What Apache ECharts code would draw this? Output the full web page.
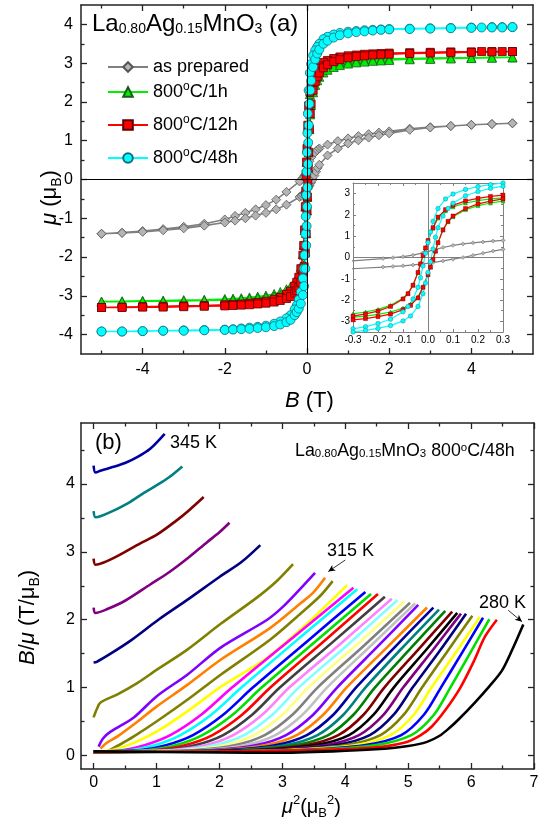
<!DOCTYPE html>
<html><head><meta charset="utf-8">
<script src="https://cdn.jsdelivr.net/npm/echarts@6/dist/echarts.min.js"></script>
<style>html,body{margin:0;padding:0;background:#fff}#c{width:550px;height:829px}</style>
</head><body><div id="c"></div>
<script>
// ---------- tick values ----------
const xTicksA = [-4, -2, 0, 2, 4];
const xMinorA = [-5, -3, -1, 1, 3, 5];
const yTicksA = [-4, -3, -2, -1, 0, 1, 2, 3, 4];
const yMinorA = [-3.5, -2.5, -1.5, -0.5, 0.5, 1.5, 2.5, 3.5];
const xTicksI = [-0.3, -0.2, -0.1, 0, 0.1, 0.2, 0.3];
const xMinorI = [-0.25, -0.15, -0.05, 0.05, 0.15, 0.25];
const yTicksI = [-3, -2, -1, 0, 1, 2, 3];
const yMinorI = [-2.5, -1.5, -0.5, 0.5, 1.5, 2.5];
const xTicksB = [0, 1, 2, 3, 4, 5, 6, 7];
const xMinorB = [0.5, 1.5, 2.5, 3.5, 4.5, 5.5, 6.5];
const yTicksB = [0, 1, 2, 3, 4];
const yMinorB = [0.5, 1.5, 2.5, 3.5, 4.5];

// ---------- Panel (a): hysteresis loops [B (T), mu (muB)] ----------
const grayDown = [[5,1.45],[4.5,1.43],[4,1.41],[3.5,1.38],[3,1.35],[2.5,1.31],[2,1.24],[1.75,1.21],[1.5,1.17],[1.25,1.12],[1,1.06],[0.75,0.99],[0.5,0.9],[0.3,0.8],[0.26,0.77],[0.22,0.73],[0.18,0.69],[0.14,0.64],[0.1,0.57],[0.06,0.47],[0.02,0.35],[-0.02,0.22],[-0.06,0.11],[-0.1,0.04],[-0.14,-0.01],[-0.18,-0.05],[-0.5,-0.32],[-0.75,-0.52],[-1,-0.66],[-1.25,-0.77],[-1.5,-0.86],[-1.75,-0.94],[-2,-1.03],[-2.5,-1.14],[-3,-1.22],[-3.5,-1.28],[-4,-1.33],[-4.5,-1.37],[-5,-1.4]];
const grayUp = [[-5,-1.4],[-4.5,-1.38],[-4,-1.35],[-3.5,-1.31],[-3,-1.26],[-2.5,-1.19],[-2,-1.11],[-1.75,-1.06],[-1.5,-1.0],[-1.25,-0.93],[-1,-0.86],[-0.75,-0.77],[-0.5,-0.65],[-0.18,-0.45],[-0.14,-0.42],[-0.1,-0.39],[-0.06,-0.35],[-0.02,-0.3],[0.02,-0.24],[0.06,-0.16],[0.1,-0.08],[0.14,0.0],[0.18,0.1],[0.22,0.2],[0.26,0.3],[0.3,0.38],[0.5,0.62],[0.75,0.8],[1,0.93],[1.25,1.01],[1.5,1.08],[1.75,1.14],[2,1.19],[2.5,1.28],[3,1.34],[3.5,1.38],[4,1.41],[4.5,1.43],[5,1.45]];

const greenDown = [[5,3.15],[4.5,3.15],[4,3.14],[3.5,3.14],[3,3.13],[2.5,3.12],[2,3.11],[1.8,3.1],[1.6,3.09],[1.4,3.08],[1.2,3.06],[1,3.04],[0.8,3.01],[0.65,2.98],[0.5,2.93],[0.4,2.88],[0.3,2.8],[0.25,2.75],[0.2,2.67],[0.15,2.56],[0.1,2.38],[0.07,2.2],[0.04,1.85],[0.02,1.38],[0,0.8],[-0.01,0.45],[-0.02,0.1],[-0.03,-0.3],[-0.04,-0.7],[-0.06,-1.3],[-0.08,-1.68],[-0.1,-1.92],[-0.15,-2.25],[-0.2,-2.44],[-0.25,-2.56],[-0.3,-2.65],[-0.4,-2.76],[-0.5,-2.83],[-0.65,-2.9],[-0.8,-2.95],[-1,-2.99],[-1.2,-3.02],[-1.4,-3.04],[-1.6,-3.06],[-1.8,-3.07],[-2,-3.08],[-2.5,-3.1],[-3,-3.11],[-3.5,-3.12],[-4,-3.13],[-4.5,-3.14],[-5,-3.15]];
const greenUp = [[-5,-3.15],[-4.5,-3.15],[-4,-3.14],[-3.5,-3.14],[-3,-3.13],[-2.5,-3.12],[-2,-3.11],[-1.8,-3.1],[-1.6,-3.09],[-1.4,-3.08],[-1.2,-3.06],[-1,-3.04],[-0.8,-3.01],[-0.65,-2.98],[-0.5,-2.93],[-0.4,-2.88],[-0.3,-2.8],[-0.25,-2.75],[-0.2,-2.67],[-0.15,-2.56],[-0.1,-2.38],[-0.07,-2.2],[-0.04,-1.85],[-0.02,-1.38],[0,-0.8],[0.01,-0.45],[0.02,-0.1],[0.03,0.3],[0.04,0.7],[0.06,1.3],[0.08,1.68],[0.1,1.92],[0.15,2.25],[0.2,2.44],[0.25,2.56],[0.3,2.65],[0.4,2.76],[0.5,2.83],[0.65,2.9],[0.8,2.95],[1,2.99],[1.2,3.02],[1.4,3.04],[1.6,3.06],[1.8,3.07],[2,3.08],[2.5,3.1],[3,3.11],[3.5,3.12],[4,3.13],[4.5,3.14],[5,3.15]];

const redDown = [[5,3.3],[4.75,3.3],[4.5,3.3],[4.25,3.3],[4,3.29],[3.5,3.29],[3,3.28],[2.5,3.27],[2,3.26],[1.8,3.25],[1.6,3.24],[1.4,3.23],[1.2,3.21],[1,3.19],[0.8,3.16],[0.65,3.12],[0.5,3.07],[0.4,3.02],[0.3,2.93],[0.25,2.87],[0.2,2.78],[0.15,2.66],[0.1,2.45],[0.07,2.25],[0.04,1.9],[0.02,1.4],[0,0.8],[-0.01,0.45],[-0.02,0.1],[-0.03,-0.3],[-0.04,-0.7],[-0.06,-1.3],[-0.08,-1.7],[-0.1,-1.95],[-0.15,-2.3],[-0.2,-2.52],[-0.25,-2.65],[-0.3,-2.75],[-0.4,-2.88],[-0.5,-2.96],[-0.65,-3.04],[-0.8,-3.09],[-1,-3.14],[-1.2,-3.17],[-1.4,-3.19],[-1.6,-3.21],[-1.8,-3.22],[-2,-3.23],[-2.5,-3.25],[-3,-3.26],[-3.5,-3.27],[-4,-3.28],[-4.5,-3.29],[-5,-3.3]];
const redUp = [[-5,-3.3],[-4.5,-3.3],[-4,-3.29],[-3.5,-3.29],[-3,-3.28],[-2.5,-3.27],[-2,-3.26],[-1.8,-3.25],[-1.6,-3.24],[-1.4,-3.23],[-1.2,-3.21],[-1,-3.19],[-0.8,-3.16],[-0.65,-3.12],[-0.5,-3.07],[-0.4,-3.02],[-0.3,-2.93],[-0.25,-2.87],[-0.2,-2.78],[-0.15,-2.66],[-0.1,-2.45],[-0.07,-2.25],[-0.04,-1.9],[-0.02,-1.4],[0,-0.8],[0.01,-0.45],[0.02,-0.1],[0.03,0.3],[0.04,0.7],[0.06,1.3],[0.08,1.7],[0.1,1.95],[0.15,2.3],[0.2,2.52],[0.25,2.65],[0.3,2.75],[0.4,2.88],[0.5,2.96],[0.65,3.04],[0.8,3.09],[1,3.14],[1.2,3.17],[1.4,3.19],[1.6,3.21],[1.8,3.22],[2,3.23],[2.5,3.25],[3,3.26],[3.5,3.27],[4,3.28],[4.5,3.29],[5,3.3]];

const cyanDown = [[5,3.93],[4.75,3.93],[4.5,3.93],[4.25,3.92],[4,3.92],[3.5,3.91],[3,3.9],[2.5,3.89],[2,3.88],[1.8,3.87],[1.6,3.86],[1.4,3.85],[1.2,3.83],[1,3.81],[0.8,3.78],[0.65,3.74],[0.5,3.68],[0.4,3.62],[0.3,3.5],[0.25,3.42],[0.2,3.33],[0.15,3.2],[0.1,2.98],[0.07,2.75],[0.04,2.3],[0.02,1.7],[0.01,1.2],[0,0.7],[-0.01,0.2],[-0.02,-0.4],[-0.03,-0.95],[-0.04,-1.4],[-0.06,-1.95],[-0.08,-2.3],[-0.1,-2.55],[-0.15,-2.9],[-0.2,-3.1],[-0.25,-3.25],[-0.3,-3.35],[-0.4,-3.5],[-0.5,-3.58],[-0.65,-3.66],[-0.8,-3.72],[-1,-3.77],[-1.2,-3.8],[-1.4,-3.82],[-1.6,-3.84],[-1.8,-3.86],[-2,-3.87],[-2.5,-3.88],[-3,-3.89],[-3.5,-3.9],[-4,-3.91],[-4.5,-3.92],[-5,-3.92]];
const cyanUp = [[-5,-3.92],[-4.5,-3.92],[-4,-3.91],[-3.5,-3.9],[-3,-3.9],[-2.5,-3.89],[-2,-3.88],[-1.8,-3.87],[-1.6,-3.86],[-1.4,-3.85],[-1.2,-3.83],[-1,-3.81],[-0.8,-3.78],[-0.65,-3.74],[-0.5,-3.68],[-0.4,-3.62],[-0.3,-3.5],[-0.25,-3.42],[-0.2,-3.33],[-0.15,-3.2],[-0.1,-2.98],[-0.07,-2.75],[-0.04,-2.3],[-0.02,-1.7],[-0.01,-1.2],[0,-0.7],[0.01,-0.2],[0.02,0.4],[0.03,0.95],[0.04,1.4],[0.06,1.95],[0.08,2.3],[0.1,2.55],[0.15,2.9],[0.2,3.1],[0.25,3.25],[0.3,3.35],[0.4,3.5],[0.5,3.58],[0.65,3.66],[0.8,3.72],[1,3.77],[1.2,3.8],[1.4,3.82],[1.6,3.84],[1.8,3.86],[2,3.87],[2.5,3.88],[3,3.89],[3.5,3.9],[4,3.91],[4.5,3.92],[4.75,3.92],[5,3.93]];

// ---------- Panel (b): Arrott curves [mu^2, B/mu], t01 = 280 K ... t36 = 345 K ----------
const t01 = [[0,0.06],[1,0.05],[2,0.045],[2.9,0.04],[3.8,0.06],[4.48,0.09],[5.0,0.14],[5.3,0.2],[5.5,0.29],[5.65,0.4],[5.8,0.53],[6.06,0.78],[6.3,1.03],[6.49,1.25],[6.65,1.55],[6.83,1.93]];
const t02 = [[0,0.05],[2,0.06],[3.5,0.08],[4.48,0.12],[4.95,0.19],[5.2,0.3],[5.38,0.43],[5.6,0.68],[5.83,1.0],[6.05,1.4],[6.22,1.75],[6.41,2.0]];
const t03 = [[0,0.05],[2,0.06],[3.39,0.08],[4.46,0.15],[5.05,0.3],[5.41,0.6],[5.67,1.0],[5.98,1.5],[6.29,2.01]];
const t04 = [[0,0.05],[2,0.06],[3.27,0.08],[4.3,0.15],[4.89,0.3],[5.25,0.6],[5.52,1.0],[5.86,1.52],[6.19,2.03]];
const t05 = [[0,0.05],[2,0.06],[3.14,0.08],[4.15,0.15],[4.72,0.3],[5.09,0.6],[5.37,1.0],[5.76,1.52],[6.14,2.04]];
const t06 = [[0,0.05],[2,0.06],[3.02,0.08],[3.99,0.15],[4.56,0.3],[4.93,0.6],[5.22,1.0],[5.62,1.53],[6.02,2.06]];
const t07 = [[0,0.05],[1.8,0.06],[2.89,0.08],[3.83,0.15],[4.39,0.3],[4.77,0.6],[5.07,1.0],[5.5,1.54],[5.92,2.09]];
const t08 = [[0,0.05],[1.7,0.06],[2.76,0.08],[3.67,0.15],[4.22,0.3],[4.61,0.6],[4.92,1.0],[5.38,1.54],[5.84,2.09]];
const t09 = [[0,0.05],[1.6,0.06],[2.64,0.08],[3.51,0.15],[4.06,0.3],[4.45,0.6],[4.77,1.0],[5.28,1.55],[5.78,2.1]];
const t10 = [[0,0.05],[1.5,0.06],[2.51,0.08],[3.36,0.15],[3.89,0.3],[4.29,0.6],[4.62,1.0],[5.16,1.56],[5.7,2.12]];
const t11 = [[0,0.05],[1.4,0.06],[2.39,0.08],[3.2,0.15],[3.73,0.3],[4.13,0.6],[4.47,1.0],[5.03,1.57],[5.59,2.13]];
const t12 = [[0,0.05],[1.3,0.06],[2.26,0.08],[3.04,0.15],[3.56,0.3],[3.97,0.6],[4.32,1.0],[4.9,1.58],[5.49,2.15]];
const t13 = [[0,0.05],[1.2,0.06],[2.13,0.08],[2.88,0.15],[3.39,0.3],[3.81,0.6],[4.17,1.0],[4.78,1.59],[5.4,2.18]];
const t14 = [[0,0.05],[1.1,0.06],[2.01,0.08],[2.72,0.15],[3.23,0.3],[3.65,0.6],[4.02,1.0],[4.66,1.59],[5.3,2.18]];
const t15 = [[0,0.05],[1.0,0.06],[1.88,0.08],[2.57,0.15],[3.06,0.3],[3.49,0.6],[3.87,1.0],[4.52,1.61],[5.16,2.22]];
const t16 = [[0,0.05],[0.9,0.06],[1.75,0.08],[2.4,0.15],[2.89,0.3],[3.32,0.6],[3.71,1.0],[4.41,1.62],[5.11,2.24]];
const t17 = [[0,0.05],[0.8,0.06],[1.62,0.08],[2.24,0.15],[2.72,0.3],[3.16,0.6],[3.56,1.0],[4.3,1.62],[5.03,2.25]];
const t18 = [[0,0.05],[0.7,0.06],[1.49,0.08],[2.08,0.15],[2.55,0.3],[3.0,0.6],[3.41,1.0],[4.18,1.63],[4.94,2.27]];
const t19 = [[0,0.05],[0.6,0.06],[1.37,0.08],[1.92,0.15],[2.39,0.3],[2.84,0.6],[3.26,1.0],[4.05,1.64],[4.83,2.29]];
const t20 = [[0,0.05],[0.5,0.06],[1.24,0.08],[1.77,0.15],[2.22,0.3],[2.68,0.6],[3.11,1.0],[3.93,1.65],[4.74,2.31]];
const t21 = [[0,0.05],[0.45,0.06],[1.12,0.08],[1.61,0.15],[2.06,0.3],[2.52,0.6],[2.96,1.0],[3.8,1.67],[4.63,2.34]];
const t22 = [[0,0.05],[0.4,0.06],[0.99,0.08],[1.45,0.15],[1.89,0.3],[2.36,0.6],[2.81,1.0],[3.67,1.69],[4.52,2.38]];
const t23 = [[0,0.05],[0.35,0.06],[0.87,0.08],[1.3,0.15],[1.73,0.3],[2.21,0.6],[2.67,1.0],[3.54,1.69],[4.41,2.38]];
const t24 = [[0,0.05],[0.3,0.06],[0.76,0.08],[1.15,0.15],[1.58,0.3],[2.06,0.6],[2.53,1.0],[3.43,1.71],[4.32,2.41]];
const t25 = [[0,0.05],[0.25,0.06],[0.6,0.08],[0.97,0.15],[1.38,0.3],[1.87,0.6],[2.35,1.0],[3.27,1.73],[4.19,2.45]];
const t26 = [[0,0.05],[0.2,0.06],[0.48,0.08],[0.81,0.15],[1.22,0.3],[1.71,0.6],[2.2,1.0],[3.17,1.74],[4.13,2.47]];
const t27 = [[0,0.05],[0.3,0.08],[0.6,0.17],[1.0,0.35],[1.49,0.65],[2.02,1.01],[2.76,1.44],[3.4,1.95],[4.03,2.51]];
const t28 = [[0.22,0.06],[0.4,0.15],[0.64,0.28],[1.0,0.5],[1.49,0.82],[2.02,1.19],[2.81,1.71],[3.3,2.1],[3.6,2.35],[3.8,2.57]];
const t29 = [[0.11,0.1],[0.2,0.18],[0.38,0.28],[0.7,0.5],[1.0,0.72],[1.49,1.04],[2.02,1.41],[2.81,1.88],[3.3,2.25],[3.49,2.4],[3.68,2.62]];
const t30 = [[0.08,0.13],[0.15,0.25],[0.27,0.35],[0.64,0.56],[1.0,0.87],[1.49,1.19],[2.02,1.59],[2.76,2.0],[3.02,2.2],[3.33,2.5],[3.52,2.69]];
const t31 = [[0,0.56],[0.05,0.68],[0.11,0.78],[0.38,0.9],[0.7,1.07],[1.0,1.26],[1.49,1.56],[2.02,1.94],[2.6,2.33],[2.9,2.56],[3.17,2.82]];
const t32 = [[0,1.37],[0.05,1.38],[0.27,1.5],[0.6,1.7],[1.03,2.0],[1.5,2.3],[2.0,2.63],[2.35,2.85],[2.65,3.1]];
const t33 = [[0,2.18],[0.03,2.1],[0.2,2.15],[0.5,2.28],[0.9,2.52],[1.2,2.7],[1.5,2.91],[1.8,3.14],[2.0,3.29],[2.16,3.43]];
const t34 = [[0,2.9],[0.03,2.81],[0.15,2.84],[0.4,2.95],[0.75,3.13],[1.0,3.25],[1.3,3.45],[1.5,3.6],[1.75,3.81]];
const t35 = [[0,3.6],[0.03,3.51],[0.12,3.53],[0.3,3.6],[0.55,3.72],[0.8,3.87],[1.0,3.98],[1.2,4.1],[1.41,4.26]];
const t36 = [[0,4.27],[0.03,4.17],[0.12,4.2],[0.3,4.25],[0.5,4.31],[0.7,4.4],[0.9,4.52],[1.13,4.74]];
const curvesB = [t01,t02,t03,t04,t05,t06,t07,t08,t09,t10,t11,t12,t13,t14,t15,t16,t17,t18,t19,t20,t21,t22,t23,t24,t25,t26,t27,t28,t29,t30,t31,t32,t33,t34,t35,t36];
const curveColors = ['#000000','#FF0000','#00E000','#0000FF','#FFFF00','#808000','#000080','#800080','#000000','#800000','#008000','#008080','#0000A0','#FF8000','#8000FF','#C0C0C0','#808080','#FFFF80','#80FFFF','#FF80FF','#404040','#FF0000','#00E000','#0000FF','#00FFFF','#FF00FF','#FFFF00','#808000','#FF8000','#8000FF','#808000','#000080','#800080','#800000','#008080','#0000A0'];

// ---------- helpers ----------
const FF = '"Liberation Sans", Arial, sans-serif';
function axesFor(dim, grid, min, max, majors, minors, o) {
  const pos = dim === 'x' ? ['bottom', 'top'] : ['left', 'right'];
  const base = () => ({type: 'value', gridIndex: grid, min: min, max: max, splitLine: {show: false}, z: o.z || 0});
  const line = (show) => ({show: show, onZero: false, lineStyle: {color: o.color, width: o.width}});
  const tick = (vals, len) => ({show: true, inside: true, length: len, customValues: vals, lineStyle: {color: o.color, width: o.tw}});
  const lab = (show, vals) => ({show: show, customValues: vals, formatter: o.fmt, fontSize: o.fs, color: '#000', fontFamily: FF, margin: o.margin});
  return [
    Object.assign(base(), {position: pos[0], axisLine: line(true), axisTick: tick(majors, o.maj), axisLabel: lab(true, majors)}),
    Object.assign(base(), {position: pos[1], axisLine: line(true), axisTick: tick(majors, o.maj), axisLabel: lab(false, majors)}),
    Object.assign(base(), {position: pos[0], axisLine: line(false), axisTick: tick(minors, o.min), axisLabel: lab(false, minors)}),
    Object.assign(base(), {position: pos[1], axisLine: line(false), axisTick: tick(minors, o.min), axisLabel: lab(false, minors)})
  ];
}
const intFmt = v => String(Math.round(v));
const oA = {color: '#222', width: 1.5, tw: 1.3, maj: 6, min: 3.5, fs: 16, margin: 8, fmt: intFmt};
const oI = {color: '#808080', width: 1, tw: 1, maj: 3, min: 2, fs: 10, margin: 3, fmt: v => v.toFixed(1), z: 7};
const oIy = Object.assign({}, oI, {fmt: intFmt});
const oB = {color: '#222', width: 1.5, tw: 1.3, maj: 6, min: 3.5, fs: 16, margin: 6, fmt: intFmt};

const xAxes = [].concat(
  axesFor('x', 0, -5.5, 5.5, xTicksA, xMinorA, oA),
  axesFor('x', 1, -0.3, 0.3, xTicksI, xMinorI, oI),
  axesFor('x', 2, -0.2, 7, xTicksB, xMinorB, oB));
const yAxes = [].concat(
  axesFor('y', 0, -4.5, 4.5, yTicksA, yMinorA, oA),
  axesFor('y', 1, -3.5, 3.5, yTicksI, yMinorI, oIy),
  axesFor('y', 2, -0.2, 4.9, yTicksB, yMinorB, oB));

const loopDefs = [
  {name: 'as prepared', data: grayDown.concat(grayUp), symbol: 'diamond', size: 9, isize: 4, fill: '#B4B4B4', border: '#555555', line: '#808080'},
  {name: '800°C/1h', data: greenDown.concat(greenUp), symbol: 'triangle', size: 9, isize: 4, fill: '#00EE00', border: '#1a5a1a', line: '#00EE00'},
  {name: '800°C/12h', data: redDown.concat(redUp), symbol: 'rect', size: 8, isize: 4, fill: '#FF0000', border: '#5a0000', line: '#FF0000'},
  {name: '800°C/48h', data: cyanDown.concat(cyanUp), symbol: 'circle', size: 9, isize: 4.5, fill: '#00FFFF', border: '#1a6a7a', line: '#00FFFF'}
];

const series = [];
series.push({type: 'line', xAxisIndex: 0, yAxisIndex: 0, data: [], z: 1, silent: true,
  markLine: {silent: true, symbol: ['none', 'none'], label: {show: false}, animation: false,
    lineStyle: {color: '#000', width: 1, type: 'solid'}, data: [{yAxis: 0}, {xAxis: 0}]}});
series.push({type: 'line', xAxisIndex: 4, yAxisIndex: 4, data: [], z: 6, silent: true,
  markLine: {silent: true, symbol: ['none', 'none'], label: {show: false}, animation: false,
    lineStyle: {color: '#808080', width: 1, type: 'solid'}, data: [{yAxis: 0}, {xAxis: 0}]}});
loopDefs.forEach(d => {
  series.push({type: 'line', name: d.name, xAxisIndex: 0, yAxisIndex: 0, data: d.data, z: 3,
    symbol: d.symbol, symbolSize: d.size, showAllSymbol: true, clip: true,
    itemStyle: {color: d.fill, borderColor: d.border, borderWidth: 0.8},
    lineStyle: {color: d.line, width: 1.6}});
});
loopDefs.forEach(d => {
  series.push({type: 'line', name: d.name, xAxisIndex: 4, yAxisIndex: 4, data: d.data, z: 8,
    symbol: d.symbol, symbolSize: d.isize, showAllSymbol: true, clip: true,
    itemStyle: {color: d.fill, borderColor: d.border, borderWidth: 0.4},
    lineStyle: {color: d.line, width: 1.2}});
});
for (let i = curvesB.length - 1; i >= 0; i--) {
  series.push({type: 'line', name: 'c' + i, xAxisIndex: 8, yAxisIndex: 8, data: curvesB[i], z: 3,
    showSymbol: false, smooth: 0.3, clip: true,
    lineStyle: {color: curveColors[i], width: 2.6}});
}
series.push({type: 'line', xAxisIndex: 8, yAxisIndex: 8, data: [], z: 4, silent: true,
  markLine: {silent: true, symbol: ['none', 'arrow'], symbolSize: [5, 7], label: {show: false}, animation: false,
    lineStyle: {color: '#000', width: 0.8, type: 'solid'},
    data: [[{coord: [4.0, 2.88]}, {coord: [3.73, 2.71]}], [{coord: [6.59, 2.14]}, {coord: [6.81, 1.97]}]]}});

const legRich = {sup: {fontSize: 12, verticalAlign: 'top', lineHeight: 12, fontFamily: FF, color: '#000'}};
const legends = loopDefs.map((d, k) => ({
  data: [d.name], left: 107, top: [56, 81, 114, 147][k], padding: 0,
  itemWidth: 40, itemHeight: 12, selectedMode: false,
  formatter: n => n.replace('°', '{sup|o}'),
  textStyle: {fontSize: 18, fontFamily: FF, color: '#000', lineHeight: 22, rich: legRich}
}));

function rt(x, y, text, fs, rich, extra) {
  return Object.assign({type: 'text', x: x, y: y, silent: true,
    style: {text: text, fontSize: fs, fontFamily: FF, fill: '#000', align: 'left', verticalAlign: 'top', rich: rich}}, extra || {});
}
const subR = (fs) => ({fontSize: fs, verticalAlign: 'bottom', lineHeight: 10, fontFamily: FF, fill: '#000'});
const graphic = [
  rt(92, 12, 'La{s|0.80}Ag{s|0.15}MnO{s|3} (a)', 24, {s: subR(14)}),
  rt(295, 442, 'La{s|0.80}Ag{s|0.15}MnO{s|3} 800{p|o}C/48h', 17.8,
    {s: {fontSize: 11.5, verticalAlign: 'bottom', lineHeight: 8, fontFamily: FF, fill: '#000'},
     p: {fontSize: 11.5, verticalAlign: 'top', lineHeight: 11, fontFamily: FF, fill: '#000'}}),
  rt(95, 432, '(b)', 22, {}),
  rt(170, 434, '345 K', 18, {}),
  rt(327, 542, '315 K', 18, {}),
  rt(479, 594, '280 K', 18, {}),
  rt(285, 390, '{i|B} (T)', 22, {i: {fontStyle: 'italic', fontSize: 22, fontFamily: FF, fill: '#000'}}),
  rt(282, 794, '{i|μ}{p|2}(μ{s|B}{p|2})', 20,
    {i: {fontStyle: 'italic', fontSize: 20, fontFamily: FF, fill: '#000', lineHeight: 26},
     p: {fontSize: 13, verticalAlign: 'top', lineHeight: 13, fontFamily: FF, fill: '#000'},
     s: {fontSize: 13, verticalAlign: 'bottom', lineHeight: 8, fontFamily: FF, fill: '#000'}}),
  rt(36, 225, '{i|μ} (μ{s|B})', 22,
    {i: {fontStyle: 'italic', fontSize: 22, fontFamily: FF, fill: '#000', lineHeight: 28},
     s: {fontSize: 14, verticalAlign: 'bottom', lineHeight: 10, fontFamily: FF, fill: '#000'}},
    {rotation: Math.PI / 2}),
  rt(14, 665, '{i|B}/{i|μ} (T/μ{s|B})', 22,
    {i: {fontStyle: 'italic', fontSize: 22, fontFamily: FF, fill: '#000', lineHeight: 28},
     s: {fontSize: 14, verticalAlign: 'bottom', lineHeight: 10, fontFamily: FF, fill: '#000'}},
    {rotation: Math.PI / 2})
];

const chart = echarts.init(document.getElementById('c'), null, {renderer: 'canvas'});
chart.setOption({
  animation: false,
  backgroundColor: '#fff',
  grid: [
    {left: 81, top: 5, width: 452, height: 349, show: false},
    {left: 353, top: 183, width: 150, height: 149, show: true, backgroundColor: '#fff', borderWidth: 0, z: 5},
    {left: 81, top: 423, width: 453, height: 346, show: false}
  ],
  xAxis: xAxes,
  yAxis: yAxes,
  legend: legends,
  series: series,
  graphic: graphic
});
</script></body></html>
